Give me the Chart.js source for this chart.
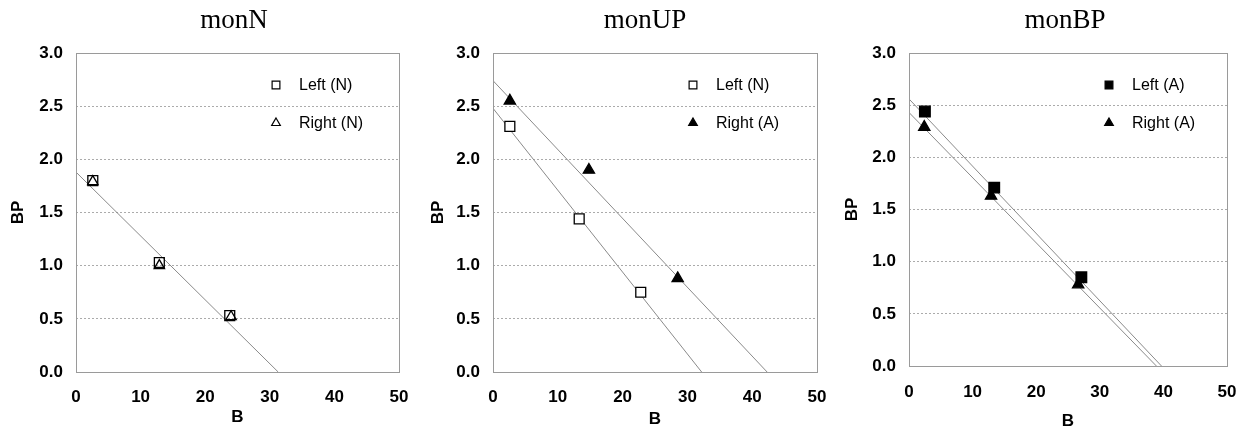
<!DOCTYPE html>
<html>
<head>
<meta charset="utf-8">
<script src="https://cdn.jsdelivr.net/npm/chart.js@4/dist/chart.umd.min.js"></script>
<style>
  html, body { margin: 0; padding: 0; background: #fff; }
  body { width: 1247px; height: 435px; position: relative; overflow: hidden; }
  canvas { position: absolute; top: 0; }
</style>
</head>
<body>
<canvas id="c1" width="410" height="435" style="left:0px"></canvas>
<canvas id="c2" width="420" height="435" style="left:410px"></canvas>
<canvas id="c3" width="417" height="435" style="left:830px"></canvas>
<script>
// ---- Data ----
const panelTitles = ['monN', 'monUP', 'monBP'];
const xTickValues = [0, 10, 20, 30, 40, 50];
const yTickValues = [0, 0.5, 1.0, 1.5, 2.0, 2.5, 3.0];
const xAxisTitle = 'B';
const yAxisTitle = 'BP';

// monN
const monN_leftLabel = 'Left (N)';
const monN_leftB = [2.6, 12.9, 23.8];
const monN_leftBP = [1.80, 1.03, 0.53];
const monN_rightLabel = 'Right (N)';
const monN_rightB = [2.6, 12.9, 24.0];
const monN_rightBP = [1.79, 1.00, 0.52];
const monN_fitB = [0, 31.3];
const monN_fitBP = [1.88, 0];

// monUP
const monUP_leftLabel = 'Left (N)';
const monUP_leftB = [2.6, 13.3, 22.8];
const monUP_leftBP = [2.31, 1.44, 0.75];
const monUP_rightLabel = 'Right (A)';
const monUP_rightB = [2.6, 14.8, 28.5];
const monUP_rightBP = [2.55, 1.90, 0.88];
const monUP_fitLeftB = [0, 32.2];
const monUP_fitLeftBP = [2.48, 0];
const monUP_fitRightB = [0, 42.3];
const monUP_fitRightBP = [2.74, 0];

// monBP
const monBP_leftLabel = 'Left (A)';
const monBP_leftB = [2.5, 13.4, 27.1];
const monBP_leftBP = [2.44, 1.71, 0.85];
const monBP_rightLabel = 'Right (A)';
const monBP_rightB = [2.4, 12.9, 26.6];
const monBP_rightBP = [2.29, 1.63, 0.78];
const monBP_fitLeftB = [0, 39.7];
const monBP_fitLeftBP = [2.56, 0];
const monBP_fitRightB = [0, 38.9];
const monBP_fitRightBP = [2.43, 0];

// ---- helpers ----
const toPts = (xs, ys) => xs.map((x, i) => ({ x: x, y: ys[i] }));

function markerSet(label, xs, ys, style, fill, radius) {
  return {
    type: 'scatter', label: label, data: toPts(xs, ys),
    pointStyle: style, pointRadius: radius, pointHoverRadius: radius,
    backgroundColor: fill, borderColor: '#000',
    pointBorderWidth: 1.3, showLine: false, inLegend: true, order: 0
  };
}
function fitSet(xs, ys) {
  return {
    type: 'line', label: '', data: toPts(xs, ys), showLine: true,
    borderColor: '#8a8a8a', borderWidth: 1, pointRadius: 0, fill: false,
    inLegend: false, order: 1
  };
}

const frameLegendTitle = {
  id: 'frameLegendTitle',
  afterDraw(chart, args, opts) {
    const { ctx, chartArea: a } = chart;
    ctx.save();
    // plot frame
    ctx.strokeStyle = '#9a9a9a';
    ctx.lineWidth = 1;
    ctx.strokeRect(Math.round(a.left) + 0.5, Math.round(a.top) + 0.5,
                   Math.round(a.right - a.left), Math.round(a.bottom - a.top));
    // title
    ctx.fillStyle = '#000';
    ctx.font = '27px "Liberation Serif", "Times New Roman", serif';
    ctx.textAlign = 'center';
    ctx.textBaseline = 'alphabetic';
    ctx.fillText(opts.text, opts.x, 28);
    // legend
    let row = 0;
    chart.data.datasets.forEach(ds => {
      if (!ds.inLegend) return;
      const y = a.top + 32 + row * 38;
      const mx = a.left + 200;
      ctx.fillStyle = ds.backgroundColor === 'transparent' ? '#fff' : ds.backgroundColor;
      ctx.strokeStyle = '#000';
      ctx.lineWidth = 1.2;
      const r = ds.pointStyle === 'rect' ? 5.5 : 5;
      Chart.helpers.drawPoint(ctx, { pointStyle: ds.pointStyle, rotation: 0, radius: r, borderWidth: 1.2 }, mx, y);
      ctx.fillStyle = '#000';
      ctx.font = '16px "Liberation Sans", Arial, sans-serif';
      ctx.textAlign = 'left';
      ctx.textBaseline = 'middle';
      ctx.fillText(ds.label, a.left + 223, y + 1);
      row++;
    });
    ctx.restore();
  }
};

function makeChart(id, title, datasets, geo) {
  const tickFont = { family: '"Liberation Sans", Arial, sans-serif', size: 17, weight: 'bold', lineHeight: 1.2 };
  new Chart(document.getElementById(id), {
    type: 'scatter',
    data: { datasets: datasets },
    options: {
      responsive: false, animation: false, devicePixelRatio: 1,
      layout: { padding: { left: 0, right: geo.padRight, top: 53, bottom: 0 } },
      plugins: {
        legend: { display: false }, tooltip: { enabled: false }, title: { display: false },
        frameLegendTitle: { text: title, x: geo.titleX }
      },
      scales: {
        x: {
          type: 'linear', min: 0, max: 50,
          afterBuildTicks: s => { s.ticks = xTickValues.map(v => ({ value: v })); },
          afterFit: s => { s.height = geo.xHeight; s.paddingLeft = 0; s.paddingRight = 0; },
          grid: { display: false, drawTicks: false },
          border: { display: false },
          ticks: { font: tickFont, color: '#000', padding: geo.xTickPad, maxRotation: 0 },
          title: { display: true, text: xAxisTitle, color: '#000', font: tickFont, padding: { top: 0, bottom: geo.xTitlePad } }
        },
        y: {
          type: 'linear', min: 0, max: 3,
          afterBuildTicks: s => { s.ticks = yTickValues.map(v => ({ value: v })); },
          afterFit: s => { s.width = geo.yWidth; s.paddingTop = 0; s.paddingBottom = 0; },
          grid: { color: '#ababab', lineWidth: 1, drawTicks: false },
          border: { display: false, dash: [2, 2] },
          ticks: { font: tickFont, color: '#000', padding: 13, callback: v => Number(v).toFixed(1) },
          title: { display: true, text: yAxisTitle, color: '#000', font: tickFont, padding: { top: geo.yTitlePad, bottom: 0 } }
        }
      }
    },
    plugins: [frameLegendTitle]
  });
}

makeChart('c1', panelTitles[0], [
  markerSet(monN_leftLabel, monN_leftB, monN_leftBP, 'rect', 'transparent', 7),
  markerSet(monN_rightLabel, monN_rightB, monN_rightBP, 'triangle', 'transparent', 6),
  fitSet(monN_fitB, monN_fitBP)
], { padRight: 11, xHeight: 63, yWidth: 76, xTickPad: 15, xTitlePad: 7, yTitlePad: 8, titleX: 234 });

makeChart('c2', panelTitles[1], [
  markerSet(monUP_leftLabel, monUP_leftB, monUP_leftBP, 'rect', '#fff', 7),
  markerSet(monUP_rightLabel, monUP_rightB, monUP_rightBP, 'triangle', '#000', 6.5),
  fitSet(monUP_fitLeftB, monUP_fitLeftBP),
  fitSet(monUP_fitRightB, monUP_fitRightBP)
], { padRight: 13, xHeight: 63, yWidth: 83, xTickPad: 15, xTitlePad: 5, yTitlePad: 18, titleX: 235 });

makeChart('c3', panelTitles[2], [
  markerSet(monBP_leftLabel, monBP_leftB, monBP_leftBP, 'rect', '#000', 7.5),
  markerSet(monBP_rightLabel, monBP_rightB, monBP_rightBP, 'triangle', '#000', 6.5),
  fitSet(monBP_fitLeftB, monBP_fitLeftBP),
  fitSet(monBP_fitRightB, monBP_fitRightBP)
], { padRight: 20, xHeight: 69, yWidth: 79, xTickPad: 16, xTitlePad: 3, yTitlePad: 12, titleX: 235 });
</script>
</body>
</html>
